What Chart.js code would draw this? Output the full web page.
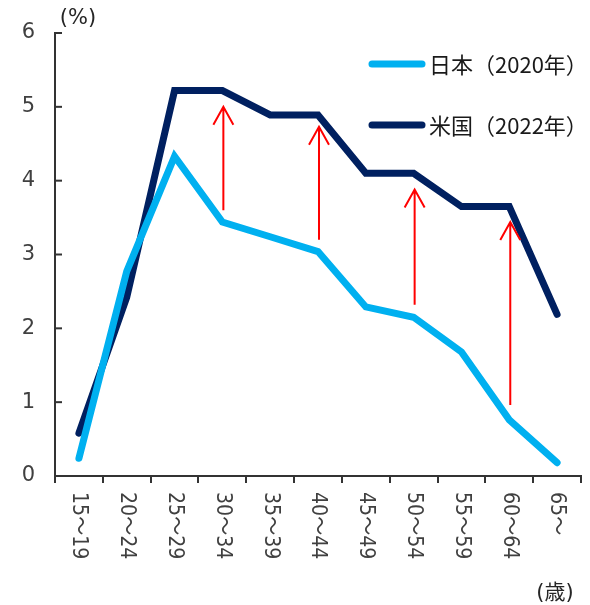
<!DOCTYPE html>
<html lang="ja">
<head>
<meta charset="utf-8">
<script src="https://cdn.jsdelivr.net/npm/chart.js@4.4.1/dist/chart.umd.min.js"></script>
<style>
  html, body { margin: 0; padding: 0; background: #ffffff; }
  canvas { display: block; }
</style>
</head>
<body>
<canvas id="chart" width="590" height="605"></canvas>
<script>
// Age groups on the x axis
const categories = ['15～19', '20～24', '25～29', '30～34', '35～39', '40～44',
                    '45～49', '50～54', '55～59', '60～64', '65～'];
// Share by age group (%)
const japan2020 = [0.24, 2.77, 4.33, 3.44, 3.24, 3.04, 2.29, 2.15, 1.68, 0.76, 0.18];
const us2022    = [0.58, 2.42, 5.22, 5.22, 4.89, 4.89, 4.10, 4.10, 3.65, 3.65, 2.19];
// Y axis ticks
const yTicks = [0, 1, 2, 3, 4, 5, 6];
// Gap arrows: age group, start value, end value
const arrowAges = ['30～34', '40～44', '50～54', '60～64'];
const arrowFrom = [3.60, 3.20, 2.32, 0.96];
const arrowTo   = [5.00, 4.73, 3.88, 3.44];
// Text
const seriesNames = ['日本（2020年）', '米国（2022年）'];
const yUnitLabel = '(%)';
const xUnitLabel = '(歳)';

const COLORS = { japan: '#00B0F0', us: '#002060', axis: '#333333', text: '#404040', arrow: '#FF0000' };
const FONT = "'DejaVu Sans', 'Noto Sans CJK JP', sans-serif";
const CJK_FONT = "'Noto Sans CJK JP', 'DejaVu Sans', sans-serif";

const decorations = {
  id: 'decorations',
  afterDatasetsDraw(chart) {
    const { ctx, chartArea, scales: { x, y } } = chart;
    ctx.save();

    // inward tick marks on the value axis
    ctx.strokeStyle = COLORS.axis;
    ctx.lineWidth = 2;
    yTicks.forEach(v => {
      const py = y.getPixelForValue(v);
      ctx.beginPath();
      ctx.moveTo(chartArea.left, py);
      ctx.lineTo(chartArea.left + 7, py);
      ctx.stroke();
    });

    // red arrows showing the gap
    ctx.strokeStyle = COLORS.arrow;
    ctx.lineWidth = 2;
    arrowAges.forEach((age, i) => {
      const px = x.getPixelForValue(categories.indexOf(age)) + 1;
      const y0 = y.getPixelForValue(arrowFrom[i]);
      const y1 = y.getPixelForValue(arrowTo[i]);
      ctx.beginPath();
      ctx.moveTo(px, y0);
      ctx.lineTo(px, y1);
      ctx.moveTo(px - 10, y1 + 18);
      ctx.lineTo(px, y1);
      ctx.lineTo(px + 10, y1 + 18);
      ctx.stroke();
    });

    // category labels, rotated to read top-to-bottom
    ctx.fillStyle = COLORS.text;
    ctx.font = `19px ${FONT}`;
    ctx.textAlign = 'left';
    ctx.textBaseline = 'middle';
    categories.forEach((c, i) => {
      const px = x.getPixelForValue(i);
      ctx.save();
      ctx.translate(px, chartArea.bottom + 16);
      ctx.rotate(Math.PI / 2);
      ctx.scale(1, 1.15);
      ctx.fillText(c, 0, 0);
      ctx.restore();
    });

    // axis unit labels
    ctx.font = `21px ${FONT}`;
    ctx.textAlign = 'center';
    ctx.fillStyle = '#262626';
    ctx.fillText(yUnitLabel, 78, 19);
    ctx.fillText(xUnitLabel, 555, 594);

    // legend
    const legendRows = [
      { name: seriesNames[0], color: COLORS.japan, y: 64 },
      { name: seriesNames[1], color: COLORS.us, y: 125 }
    ];
    legendRows.forEach(r => {
      ctx.strokeStyle = r.color;
      ctx.lineWidth = 7;
      ctx.lineCap = 'round';
      ctx.beginPath();
      ctx.moveTo(372, r.y);
      ctx.lineTo(422, r.y);
      ctx.stroke();
      ctx.fillStyle = '#1a1a1a';
      ctx.font = `22px ${CJK_FONT}`;
      ctx.textAlign = 'left';
      ctx.textBaseline = 'middle';
      ctx.fillText(r.name, 429, r.y + 1);
    });

    ctx.restore();
  }
};

new Chart(document.getElementById('chart'), {
  type: 'line',
  data: {
    labels: categories,
    datasets: [
      {
        label: seriesNames[0],
        data: japan2020,
        borderColor: COLORS.japan,
        backgroundColor: COLORS.japan,
        borderWidth: 7,
        borderCapStyle: 'round',
        borderJoinStyle: 'miter',
        pointRadius: 0,
        tension: 0
      },
      {
        label: seriesNames[1],
        data: us2022,
        borderColor: COLORS.us,
        backgroundColor: COLORS.us,
        borderWidth: 7,
        borderCapStyle: 'round',
        borderJoinStyle: 'miter',
        pointRadius: 0,
        tension: 0
      }
    ]
  },
  options: {
    responsive: false,
    animation: false,
    devicePixelRatio: 1,
    layout: { padding: { top: 33, right: 9, bottom: 0, left: 0 } },
    plugins: {
      legend: { display: false },
      tooltip: { enabled: false }
    },
    scales: {
      x: {
        type: 'category',
        offset: true,
        grid: {
          offset: true,
          drawOnChartArea: false,
          drawTicks: true,
          tickLength: 7,
          color: COLORS.axis,
          lineWidth: 2
        },
        border: { display: true, color: COLORS.axis, width: 2 },
        ticks: { display: false },
        afterFit(scale) { scale.height = 129; }
      },
      y: {
        min: 0,
        max: 6,
        afterBuildTicks(scale) { scale.ticks = yTicks.map(v => ({ value: v })); },
        grid: { display: false, drawTicks: false },
        border: { display: true, color: COLORS.axis, width: 2 },
        ticks: {
          color: COLORS.text,
          font: { family: FONT, size: 21 },
          padding: 20
        },
        afterFit(scale) { scale.width = 55; }
      }
    }
  },
  plugins: [decorations]
});
</script>
</body>
</html>
